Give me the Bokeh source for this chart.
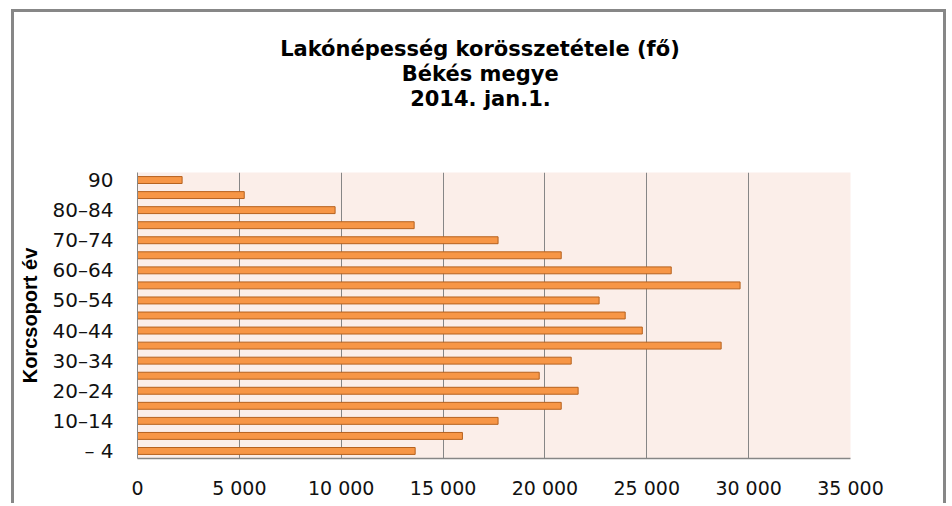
from bokeh.plotting import figure
from bokeh.models import Range1d, FixedTicker, Title
from bokeh.embed import file_html
from bokeh.resources import INLINE

# ---- data ----
age_groups = ["0–4", "5–9", "10–14", "15–19", "20–24", "25–29", "30–34", "35–39",
              "40–44", "45–49", "50–54", "55–59", "60–64", "65–69", "70–74",
              "75–79", "80–84", "85–89", "90–"]
population = [13630, 15950, 17700, 20800, 21630, 19720, 21290, 28650,
              24780, 23940, 22660, 29580, 26200, 20800, 17700,
              13580, 9700, 5240, 2190]
age_tick_labels = ["– 4", "", "10–14", "", "20–24", "", "30–34", "",
                   "40–44", "", "50–54", "", "60–64", "", "70–74",
                   "", "80–84", "", "90"]
x_ticks = [0, 5000, 10000, 15000, 20000, 25000, 30000, 35000]
x_tick_labels = ["0", "5 000", "10 000", "15 000", "20 000", "25 000", "30 000", "35 000"]
title_lines = ["Lakónépesség korösszetétele (fő)", "Békés megye", "2014. jan.1."]
y_title = "Korcsoport év"

y_pos = list(range(len(age_groups)))

# canvas placed at page (14, 12) inside a 3px grey frame
W, H = 935, 494
FL, FR, FT, FB = 123, 935 - 836, 160, 48   # frame borders inside the canvas
TITLE_PX = 21
title_em = [19.08, 7.49, 6.70]            # approx. text widths (em) for centring
title_center = 480 - 14                    # canvas x of the title centre

p = figure(width=W, height=H, output_backend="svg", toolbar_location=None,
           y_range=Range1d(-0.5, len(age_groups) - 0.5),
           x_range=Range1d(0, 35000),
           min_border_left=FL, min_border_right=FR,
           min_border_top=FT, min_border_bottom=FB)
p.margin = (9, 0, 0, 11)
p.styles = {"border-top": "3px solid #878787",
            "border-left": "3px solid #878787",
            "border-right": "3px solid #878787"}

p.hbar(y=y_pos, right=population, left=0, height=0.46,
       fill_color="#F79646", line_color="#B6621F", line_width=1)

p.background_fill_color = "#FBEEE9"
p.border_fill_color = "white"
p.outline_line_color = None

p.xgrid.grid_line_color = "#868686"
p.xgrid.grid_line_width = 1
p.xgrid.ticker = FixedTicker(ticks=x_ticks)
p.ygrid.grid_line_color = None

p.xaxis.ticker = FixedTicker(ticks=x_ticks)
p.xaxis.major_label_overrides = {t: s for t, s in zip(x_ticks, x_tick_labels)}
p.xaxis.axis_line_color = "#868686"
p.xaxis.axis_line_width = 1.5
p.xaxis.major_tick_line_color = None
p.xaxis.minor_tick_line_color = None
p.xaxis.major_tick_out = 0
p.xaxis.major_label_standoff = 18
p.xaxis.major_label_text_font = "DejaVu Sans"
p.xaxis.major_label_text_font_size = "19px"
p.xaxis.major_label_text_color = "#111111"

p.yaxis.ticker = FixedTicker(ticks=y_pos)
p.yaxis.major_label_overrides = {i: s for i, s in zip(y_pos, age_tick_labels)}
p.yaxis.axis_line_color = "#868686"
p.yaxis.major_tick_line_color = None
p.yaxis.minor_tick_line_color = None
p.yaxis.major_tick_out = 0
p.yaxis.major_label_standoff = 24
p.yaxis.major_label_text_font = "DejaVu Sans"
p.yaxis.major_label_text_font_size = "20px"
p.yaxis.major_label_text_color = "#111111"
p.yaxis.axis_label = y_title
p.yaxis.axis_label_text_font = "Liberation Sans"
p.yaxis.axis_label_text_font_style = "bold"
p.yaxis.axis_label_text_font_size = "20px"
p.yaxis.axis_label_text_color = "#000000"
p.yaxis.axis_label_standoff = 9

# spacer between the title block and the plot area
p.add_layout(Title(text=" ", text_font_size="2px", standoff=58), "above")
# title lines, added nearest-to-frame first
for txt, em in reversed(list(zip(title_lines, title_em))):
    off = title_center - em * TITLE_PX / 2 - FL
    p.add_layout(Title(text=txt, align="left", offset=off,
                       text_font="DejaVu Sans", text_font_style="bold",
                       text_font_size=f"{TITLE_PX}px", text_color="#000000",
                       standoff=-1.4), "above")

open("out.html", "w").write(file_html(p, INLINE))
